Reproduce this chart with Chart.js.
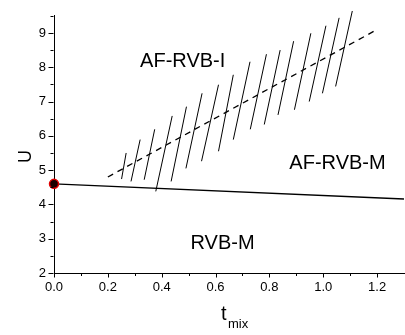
<!DOCTYPE html>
<html>
<head>
<meta charset="utf-8">
<script src="https://cdn.jsdelivr.net/npm/chart.js@4.4.0/dist/chart.umd.min.js"></script>
<style>
  html, body { margin: 0; padding: 0; background: #fff; overflow: hidden; }
  #chart { display: block; }
</style>
</head>
<body>
<canvas id="chart" width="410" height="335"></canvas>
<script>
// axis ticks
const xTicks = [0, 0.2, 0.4, 0.6, 0.8, 1.0, 1.2];
const yTicks = [2, 3, 4, 5, 6, 7, 8, 9];

// solid boundary line
const boundaryX = [0, 1.3];
const boundaryU = [4.6, 4.16];

// dashed line
const dashedX = [0.2, 1.2];
const dashedU = [4.8, 9.1];

// hatch strokes (top end / bottom end)
const hatchTopX = [0.268, 0.320, 0.374, 0.439, 0.492, 0.550, 0.611, 0.666, 0.728, 0.789, 0.840, 0.890, 0.954, 1.010, 1.059, 1.108];
const hatchTopU = [5.50, 5.89, 6.19, 6.58, 6.85, 7.24, 7.49, 7.78, 8.16, 8.38, 8.50, 8.76, 8.99, 9.21, 9.44, 9.64];
const hatchBotX = [0.251, 0.286, 0.335, 0.378, 0.435, 0.490, 0.548, 0.611, 0.666, 0.729, 0.781, 0.832, 0.893, 0.948, 0.997, 1.046];
const hatchBotU = [4.74, 4.67, 4.72, 4.38, 4.67, 5.05, 5.26, 5.55, 5.89, 6.19, 6.33, 6.61, 6.76, 7.00, 7.24, 7.44];

// critical point
const pointX = [0];
const pointU = [4.6];

// region names and where they sit (data coords)
const regionNames = ['AF-RVB-I', 'AF-RVB-M', 'RVB-M'];
const regionX = [0.478, 1.053, 0.626];
const regionU = [8.16, 5.2, 2.87];

const FONT = "'Liberation Sans', Arial, sans-serif";

const toPoints = (xs, ys) => xs.map((x, i) => ({ x: x, y: ys[i] }));

// hatch strokes as one dataset, broken by gaps
const hatchData = [];
for (let i = 0; i < hatchTopX.length; i++) {
  hatchData.push({ x: hatchTopX[i], y: hatchTopU[i] });
  hatchData.push({ x: hatchBotX[i], y: hatchBotU[i] });
  hatchData.push({ x: hatchBotX[i], y: null });
}

const midpoints = (ticks) => {
  const out = [];
  for (let i = 0; i < ticks.length - 1; i++) out.push((ticks[i] + ticks[i + 1]) / 2);
  return out;
};

// tick marks, region labels and axis titles
const decorations = {
  id: 'decorations',
  afterDraw(chart) {
    const { ctx, scales: { x, y }, chartArea } = chart;
    ctx.save();
    ctx.strokeStyle = '#000';
    ctx.lineWidth = 1;
    ctx.beginPath();
    const yb = Math.round(chartArea.bottom) + 0.5;
    const xl = Math.round(chartArea.left) - 0.5;
    xTicks.forEach(v => {
      const px = Math.round(x.getPixelForValue(v)) + 0.5;
      ctx.moveTo(px, yb); ctx.lineTo(px, yb + 4);
    });
    midpoints(xTicks).forEach(v => {
      const px = Math.round(x.getPixelForValue(v)) + 0.5;
      ctx.moveTo(px, yb); ctx.lineTo(px, yb + 2.5);
    });
    yTicks.forEach(v => {
      const py = Math.round(y.getPixelForValue(v)) + 0.5;
      ctx.moveTo(xl, py); ctx.lineTo(xl - 5, py);
    });
    midpoints(yTicks).concat([9.5]).forEach(v => {
      const py = Math.round(y.getPixelForValue(v)) + 0.5;
      ctx.moveTo(xl, py); ctx.lineTo(xl - 3, py);
    });
    ctx.stroke();

    ctx.fillStyle = '#000';
    ctx.textAlign = 'center';
    ctx.textBaseline = 'middle';
    ctx.font = '20px ' + FONT;
    regionNames.forEach((name, i) => {
      ctx.fillText(name, x.getPixelForValue(regionX[i]), y.getPixelForValue(regionU[i]));
    });

    // y title
    ctx.save();
    ctx.translate(26, (chartArea.top + chartArea.bottom) / 2 + 12);
    ctx.rotate(-Math.PI / 2);
    ctx.font = '18px ' + FONT;
    ctx.fillText('U', 0, 0);
    ctx.restore();

    // x title with subscript
    ctx.textAlign = 'left';
    ctx.textBaseline = 'alphabetic';
    ctx.font = '20px ' + FONT;
    ctx.fillText('t', 221, 320);
    ctx.font = '13px ' + FONT;
    ctx.fillText('mix', 228, 328);
    ctx.restore();
  }
};

new Chart(document.getElementById('chart'), {
  type: 'scatter',
  data: {
    datasets: [
      {
        data: toPoints(pointX, pointU),
        pointRadius: 4.5,
        pointBackgroundColor: '#1a0000',
        pointBorderColor: '#e00000',
        pointBorderWidth: 1.5,
        clip: false
      },
      {
        data: toPoints(boundaryX, boundaryU),
        showLine: true,
        pointRadius: 0,
        borderColor: '#000',
        borderWidth: 1.4
      },
      {
        data: toPoints(dashedX, dashedU),
        showLine: true,
        pointRadius: 0,
        borderColor: '#000',
        borderWidth: 1.3,
        borderDash: [6, 5]
      },
      {
        data: hatchData,
        showLine: true,
        spanGaps: false,
        pointRadius: 0,
        borderColor: '#000',
        borderWidth: 1,
        clip: false
      }
    ]
  },
  options: {
    responsive: false,
    animation: false,
    layout: { padding: { top: 14, right: 3, left: 0, bottom: 0 } },
    plugins: { legend: { display: false }, tooltip: { enabled: false } },
    scales: {
      x: {
        type: 'linear',
        min: 0,
        max: 1.3,
        afterBuildTicks: s => { s.ticks = xTicks.map(v => ({ value: v })); },
        afterFit: s => { s.height = 62; },
        grid: { display: false, drawTicks: false, tickLength: 0 },
        border: { display: true, color: '#000', width: 1 },
        ticks: {
          color: '#000',
          font: { family: FONT, size: 13 },
          padding: 7,
          maxRotation: 0,
          autoSkip: false,
          callback: v => v.toFixed(1)
        }
      },
      y: {
        type: 'linear',
        min: 2,
        max: 9.5,
        afterBuildTicks: s => { s.ticks = yTicks.map(v => ({ value: v })); },
        afterFit: s => { s.width = 54; },
        grid: { display: false, drawTicks: false, tickLength: 0 },
        border: { display: true, color: '#000', width: 1 },
        ticks: {
          color: '#000',
          font: { family: FONT, size: 13 },
          padding: 8,
          autoSkip: false,
          callback: v => String(v)
        }
      }
    }
  },
  plugins: [decorations]
});
</script>
</body>
</html>
